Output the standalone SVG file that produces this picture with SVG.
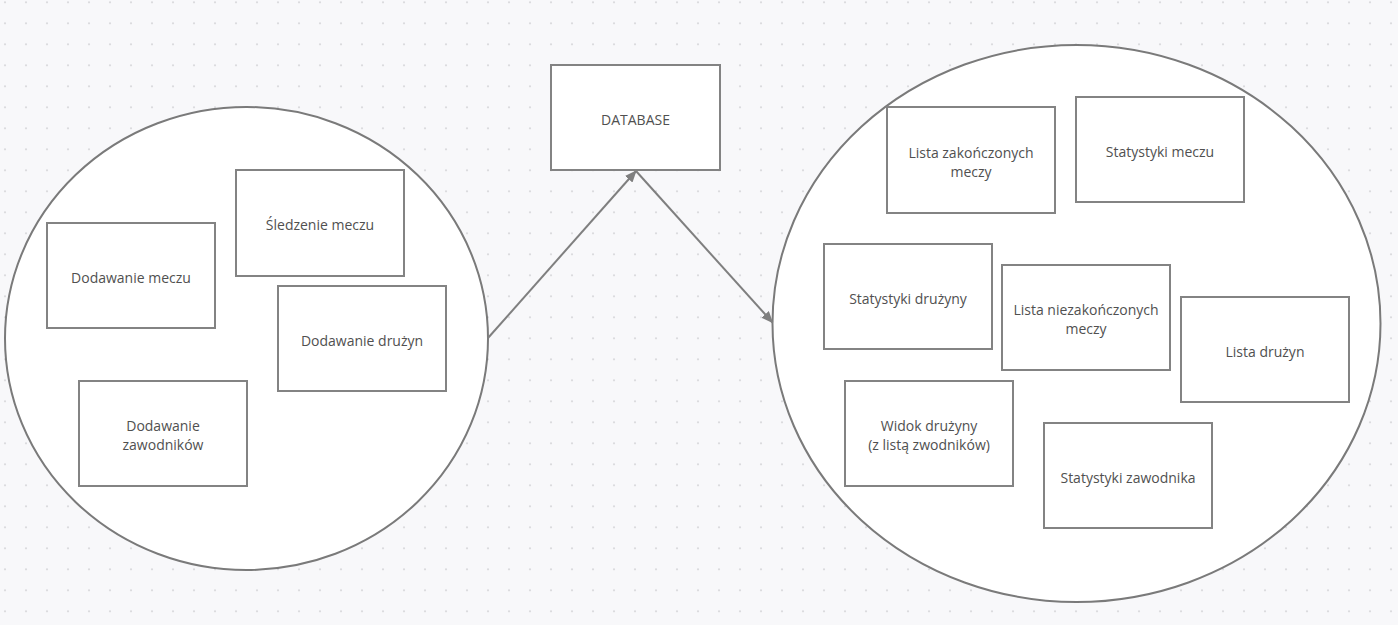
<svg xmlns="http://www.w3.org/2000/svg" width="1398" height="625" viewBox="0 0 1398 625">
<defs>
<pattern id="dots" x="0" y="0" width="21" height="21" patternUnits="userSpaceOnUse">
<circle cx="5" cy="2.3" r="1.1" fill="#dadadd"/>
</pattern>
<marker id="arr" viewBox="0 0 12 10" refX="11" refY="5" markerWidth="12" markerHeight="10" markerUnits="userSpaceOnUse" orient="auto">
<path d="M0,0 L12,5 L0,10 Z" fill="#7f7f7f"/>
</marker>
<style>
.bg{fill:#f8f8fa}
.ell{fill:#ffffff;stroke:#7a7a7a;stroke-width:2}
.box{fill:#ffffff;stroke:#838383;stroke-width:2}
.lbl{font-family:"Open Sans","Liberation Sans",sans-serif;font-size:14px;fill:#505050;text-anchor:middle;dominant-baseline:central}
.con{fill:none;stroke:#7f7f7f;stroke-width:2}
</style>
</defs>
<rect class="bg" x="0" y="0" width="1398" height="625"/>
<rect x="0" y="0" width="1398" height="625" fill="url(#dots)"/>

<g id="left-group">
<ellipse class="ell" cx="246.5" cy="338.5" rx="241.5" ry="231.5"/>
</g>
<g id="right-group">
<ellipse class="ell" cx="1076.5" cy="323.5" rx="304" ry="278.5"/>
</g>

<g id="connectors">
<line class="con" x1="488" y1="338" x2="636" y2="171" marker-end="url(#arr)"/>
<line class="con" x1="636" y1="171" x2="772.5" y2="322.5" marker-end="url(#arr)"/>
</g>

<g id="node-database">
<rect class="box" x="551" y="65" width="169" height="105"/>
<text class="lbl" x="635.5" y="119">DATABASE</text>
</g>

<g id="node-dodawanie-meczu">
<rect class="box" x="47" y="223" width="168" height="105"/>
<text class="lbl" x="131" y="277">Dodawanie meczu</text>
</g>
<g id="node-sledzenie-meczu">
<rect class="box" x="236" y="170" width="168" height="106"/>
<text class="lbl" x="320" y="224">Śledzenie meczu</text>
</g>
<g id="node-dodawanie-druzyn">
<rect class="box" x="278" y="286" width="168" height="105"/>
<text class="lbl" x="362" y="340">Dodawanie drużyn</text>
</g>
<g id="node-dodawanie-zawodnikow">
<rect class="box" x="79" y="381" width="168" height="105"/>
<text class="lbl" x="163" y="425">Dodawanie</text>
<text class="lbl" x="163" y="444">zawodników</text>
</g>

<g id="node-lista-zakonczonych">
<rect class="box" x="887" y="107" width="168" height="106"/>
<text class="lbl" x="971" y="152">Lista zakończonych</text>
<text class="lbl" x="971" y="171">meczy</text>
</g>
<g id="node-statystyki-meczu">
<rect class="box" x="1076" y="97" width="168" height="105"/>
<text class="lbl" x="1160" y="151">Statystyki meczu</text>
</g>
<g id="node-statystyki-druzyny">
<rect class="box" x="824" y="244" width="168" height="105"/>
<text class="lbl" x="908" y="298">Statystyki drużyny</text>
</g>
<g id="node-lista-niezakonczonych">
<rect class="box" x="1002" y="265" width="168" height="105"/>
<text class="lbl" x="1086" y="309">Lista niezakończonych</text>
<text class="lbl" x="1086" y="328">meczy</text>
</g>
<g id="node-lista-druzyn">
<rect class="box" x="1181" y="297" width="168" height="105"/>
<text class="lbl" x="1265" y="351">Lista drużyn</text>
</g>
<g id="node-widok-druzyny">
<rect class="box" x="845" y="381" width="168" height="105"/>
<text class="lbl" x="929" y="425">Widok drużyny</text>
<text class="lbl" x="929" y="444">(z listą zwodników)</text>
</g>
<g id="node-statystyki-zawodnika">
<rect class="box" x="1044" y="423" width="168" height="105"/>
<text class="lbl" x="1128" y="477">Statystyki zawodnika</text>
</g>
</svg>
